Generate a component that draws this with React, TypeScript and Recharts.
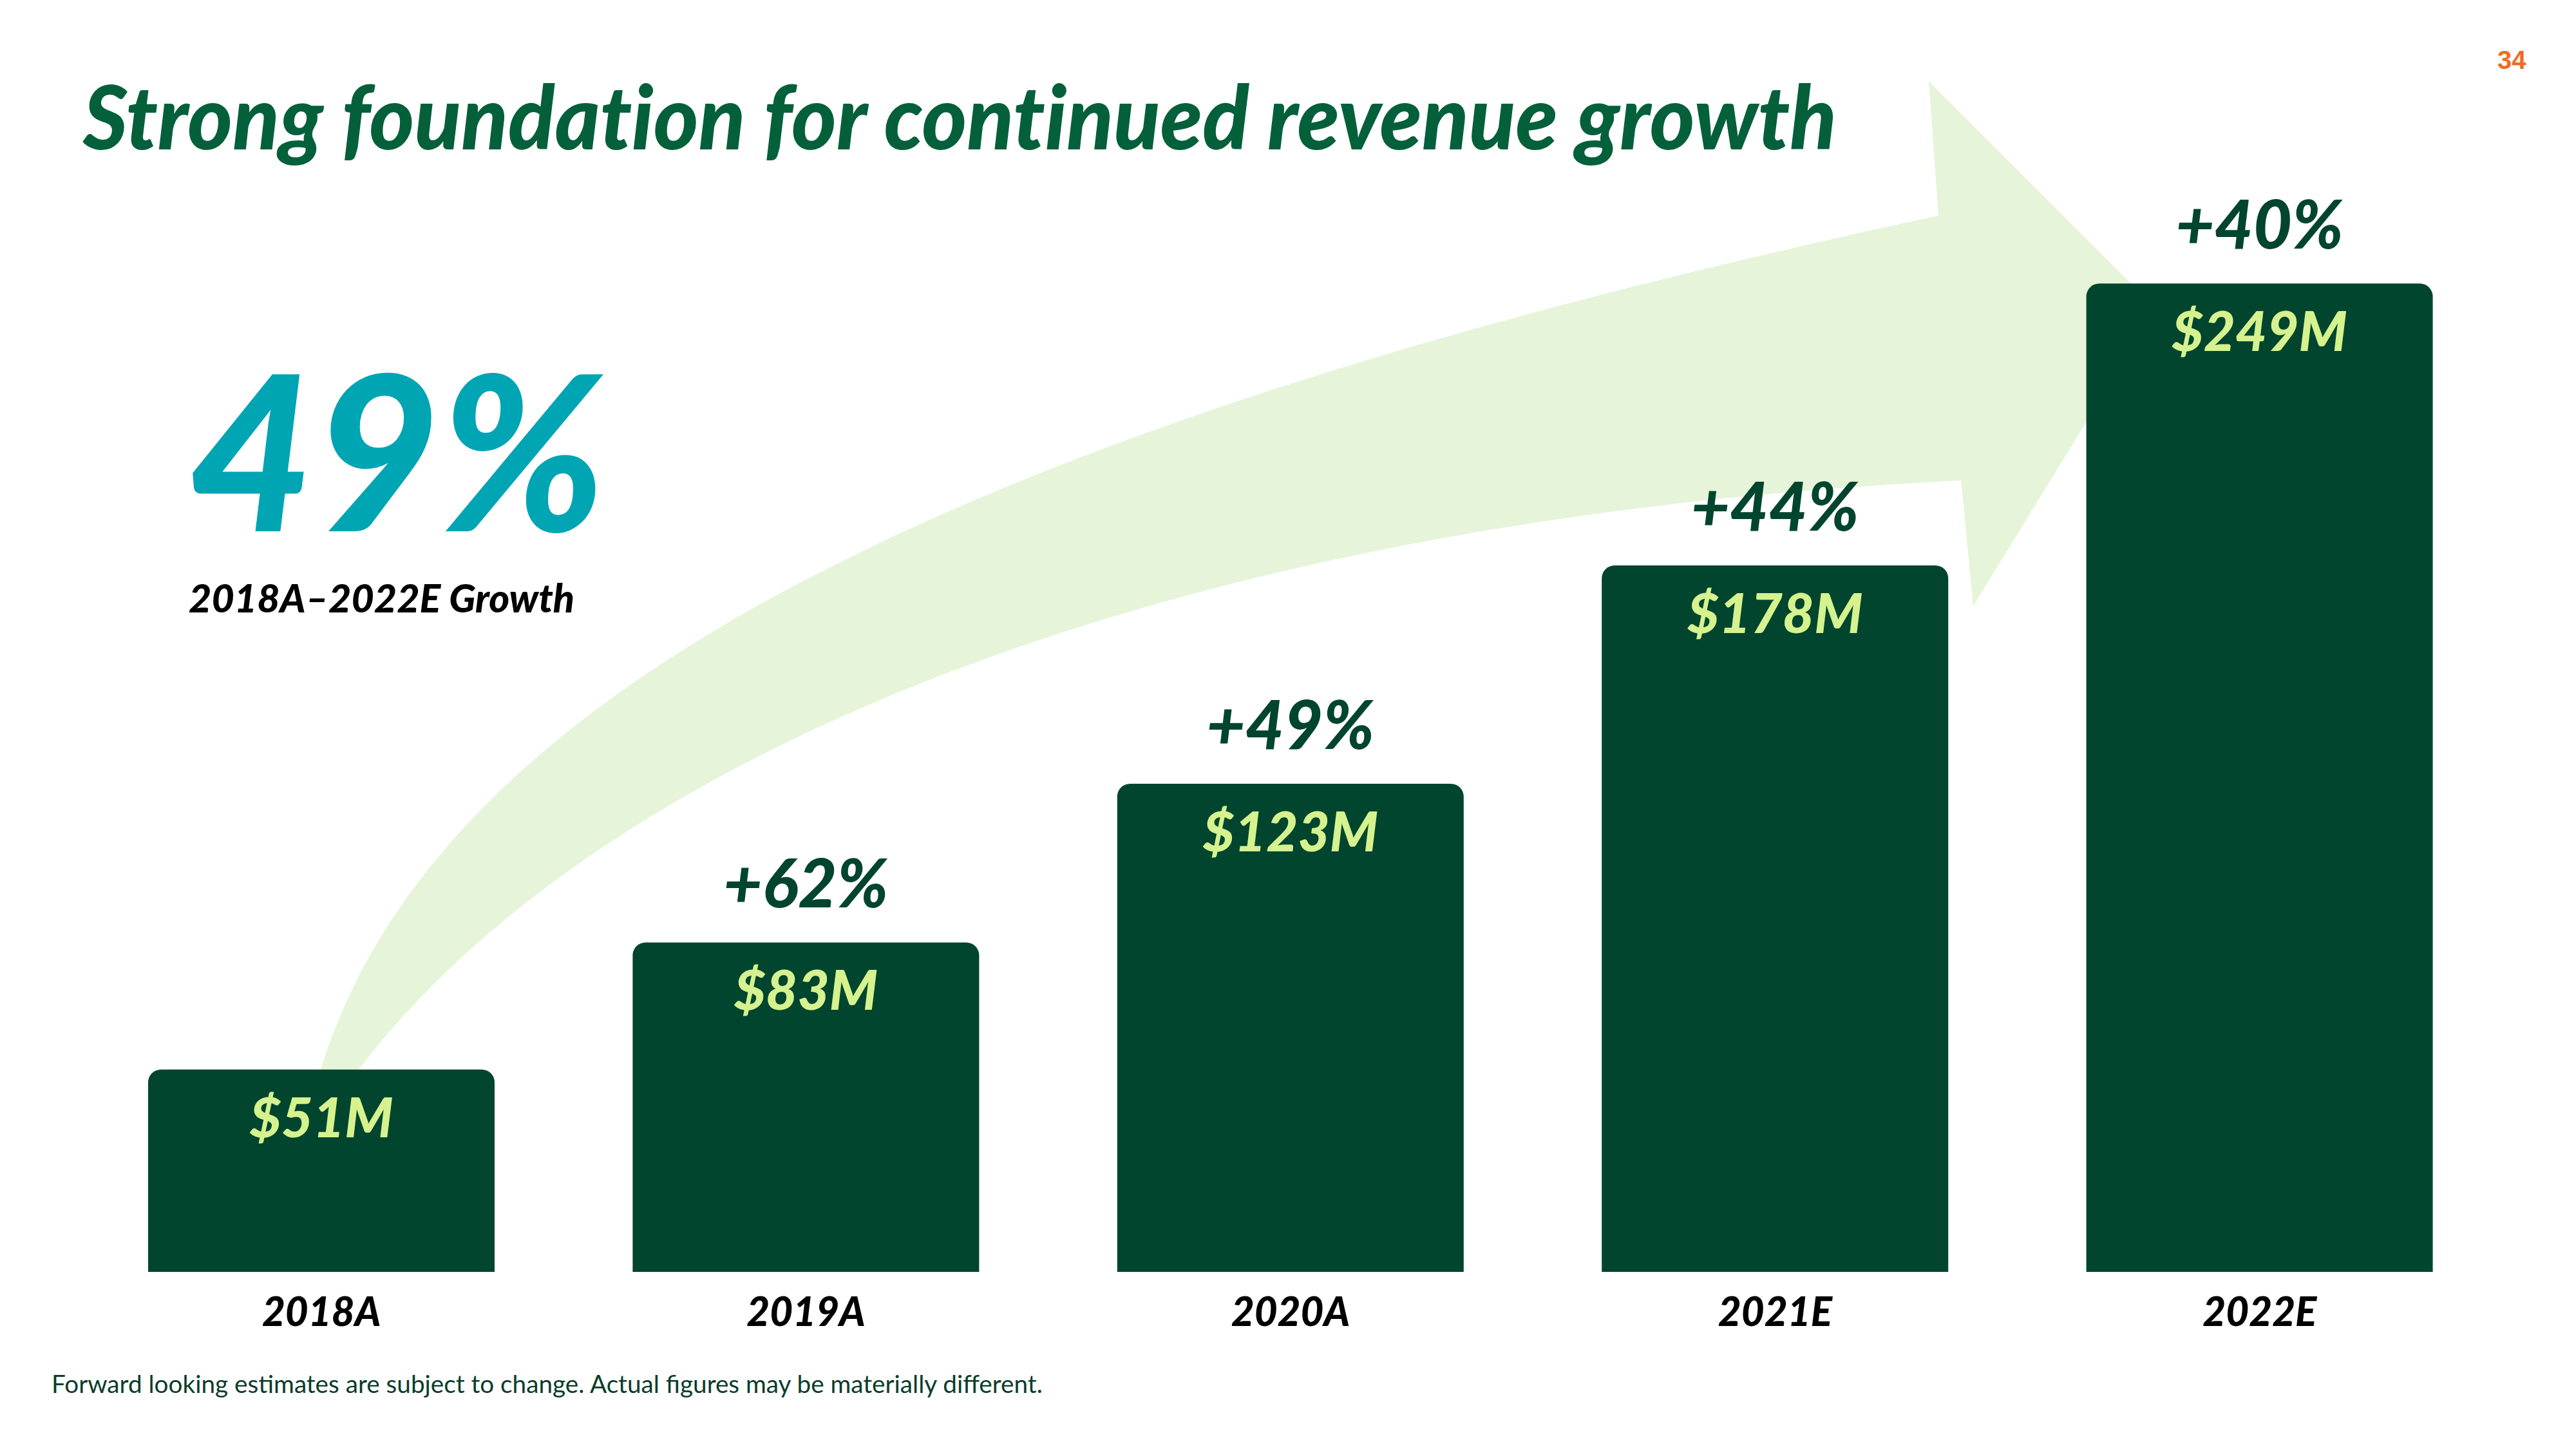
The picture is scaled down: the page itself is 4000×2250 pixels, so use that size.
import React from "react";
import { BarChart, Bar, XAxis, YAxis, LabelList } from "recharts";

const categories = ["2018A", "2019A", "2020A", "2021E", "2022E"];
const revenue = [51, 83, 123, 178, 249];
const growth: (number | null)[] = [null, 62, 49, 44, 40];
const titleText = "Strong foundation for continued revenue growth";
const cagrText = "49%";
const cagrLabel = "2018A\u20132022E Growth";
const footnote = "Forward looking estimates are subject to change. Actual figures may be materially different.";
const pageNumber = "34";

const data = categories.map((c, i) => ({ name: c, revenue: revenue[i], growth: growth[i] }));

const BAR = "#02452e";
const VALUE = "#d5f28e";
const FONT = "Lato, 'Open Sans', sans-serif";

const ValueLabel = (props: any) => {
  const { x, y, width, value } = props;
  return (
    <text x={x + width / 2} y={y + 105} textAnchor="middle" fill={VALUE}
      style={{ fontFamily: FONT, fontWeight: 900, fontStyle: "italic", fontSize: 85 }}>
      {`$${value}M`}
    </text>
  );
};

const GrowthLabel = (props: any) => {
  const { x, y, width, value } = props;
  if (value === null || value === undefined) return null;
  return (
    <text x={x + width / 2} y={y - 54} textAnchor="middle" fill={BAR}
      style={{ fontFamily: FONT, fontWeight: 900, fontStyle: "italic", fontSize: 104 }}>
      {`+${value}%`}
    </text>
  );
};

const CatTick = (props: any) => {
  const { x, y, payload } = props;
  return (
    <text x={x} y={y + 84} textAnchor="middle" fill="#000"
      style={{ fontFamily: FONT, fontWeight: 900, fontStyle: "italic", fontSize: 62 }}>
      {payload.value}
    </text>
  );
};

export default function App() {
  return (
    <div style={{ position: "absolute", left: 0, top: 0, width: 4000, height: 2250, background: "#fff", overflow: "hidden" }}>
      <svg width={4000} height={2250} style={{ position: "absolute", left: 0, top: 0 }}>
        <path
          d="M 495 1670 C 650 1150, 1300 700, 3010 335 L 2995 126 L 3348 479 L 3064 941 L 3045 746 C 1750 810, 900 1200, 550 1670 Z"
          fill="#e6f5d9"
        />
        <text x={129} y={232} fill="#04603b" textLength={2723} lengthAdjust="spacingAndGlyphs"
          style={{ fontFamily: FONT, fontWeight: 900, fontStyle: "italic", fontSize: 138, fontVariantLigatures: "none" }}>
          {titleText}
        </text>
        <text x={3878} y={107} fill="#f26a21"
          style={{ fontFamily: "'Liberation Sans', Arial, sans-serif", fontWeight: 700, fontSize: 40 }}>
          {pageNumber}
        </text>
        <text x={293} y={825} fill="#00a5b3"
          style={{ fontFamily: FONT, fontWeight: 900, fontStyle: "italic", fontSize: 336 }}>
          {cagrText}
        </text>
        <text x={293} y={951} fill="#000"
          style={{ fontFamily: FONT, fontWeight: 900, fontStyle: "italic", fontSize: 61 }}>
          {cagrLabel}
        </text>
        <text x={80} y={2163} fill="#0b3d2a"
          style={{ fontFamily: FONT, fontWeight: 400, fontSize: 38.7 }}>
          {footnote}
        </text>
      </svg>
      <div style={{ position: "absolute", left: 0, top: 0 }}>
        <BarChart width={4000} height={2250} data={data}
          margin={{ top: 126, right: 115, bottom: 175, left: 123 }}>
          <XAxis dataKey="name" axisLine={false} tickLine={false} tickSize={0} tickMargin={0}
            height={100} tick={<CatTick />} interval={0} />
          <YAxis hide domain={[0, 300]} />
          <Bar dataKey="revenue" fill={BAR} barSize={538} radius={[20, 20, 0, 0]} isAnimationActive={false}>
            <LabelList dataKey="revenue" content={<ValueLabel />} />
            <LabelList dataKey="growth" content={<GrowthLabel />} />
          </Bar>
        </BarChart>
      </div>
    </div>
  );
}
